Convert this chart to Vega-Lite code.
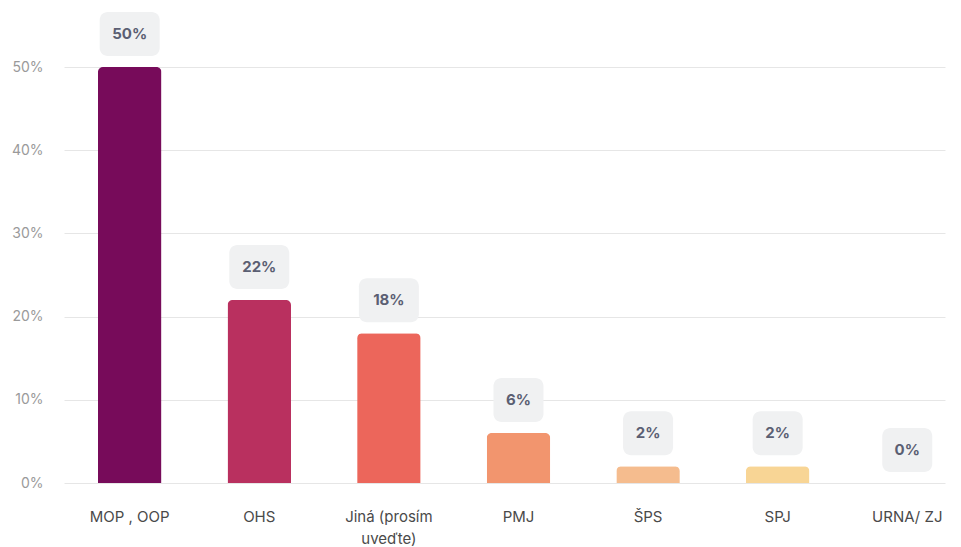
{
  "$schema": "https://vega.github.io/schema/vega-lite/v6.json",
  "width": 881,
  "height": 416,
  "autosize": {"type": "none"},
  "padding": {"left": 64, "top": 67, "right": 16, "bottom": 64},
  "background": "white",
  "config": {"view": {"stroke": null}, "font": "Inter"},
  "data": {
    "values": [
      {"cat": "MOP , OOP", "pct": 0.50, "label": "50%"},
      {"cat": "OHS", "pct": 0.22, "label": "22%"},
      {"cat": "Jiná (prosím uveďte)", "pct": 0.18, "label": "18%"},
      {"cat": "PMJ", "pct": 0.06, "label": "6%"},
      {"cat": "ŠPS", "pct": 0.02, "label": "2%"},
      {"cat": "SPJ", "pct": 0.02, "label": "2%"},
      {"cat": "URNA/ ZJ", "pct": 0.0, "label": "0%"}
    ]
  },
  "encoding": {
    "x": {
      "field": "cat", "type": "nominal", "sort": null,
      "scale": {"paddingInner": 0.51, "paddingOuter": 0.154, "align": 0.85},
      "axis": {
        "title": null, "labelAngle": 0, "domain": false, "ticks": false,
        "labelPadding": 26, "labelFontSize": 15, "labelColor": "#4a4a4a",
        "labelFont": "Inter", "labelLineHeight": 22,
        "labelExpr": "datum.label == 'Jiná (prosím uveďte)' ? ['Jiná (prosím', 'uveďte)'] : datum.label"
      }
    }
  },
  "layer": [
    {
      "mark": {"type": "bar", "cornerRadiusTopLeft": 5, "cornerRadiusTopRight": 5},
      "encoding": {
        "y": {
          "field": "pct", "type": "quantitative",
          "scale": {"domain": [0, 0.5]},
          "axis": {
            "title": null, "format": ".0%", "values": [0, 0.1, 0.2, 0.3, 0.4, 0.5],
            "domain": false, "ticks": false, "labelPadding": 21,
            "labelFontSize": 14, "labelColor": "#9a9a9a", "gridColor": "#e6e6e6",
            "labelFont": "Inter"
          }
        },
        "color": {
          "field": "cat", "type": "nominal", "sort": null, "legend": null,
          "scale": {
            "domain": ["MOP , OOP", "OHS", "Jiná (prosím uveďte)", "PMJ", "ŠPS", "SPJ", "URNA/ ZJ"],
            "range": ["#770b5a", "#b9305f", "#ec665b", "#f2956e", "#f5bc8e", "#f8d595", "#fbe9b0"]
          }
        }
      }
    },
    {
      "transform": [{"filter": "datum.pct >= 0.1"}],
      "mark": {"type": "rect", "width": 60, "height": 44, "yOffset": -33, "cornerRadius": 8, "color": "#f0f1f2"},
      "encoding": {"y": {"field": "pct", "type": "quantitative"}}
    },
    {
      "transform": [{"filter": "datum.pct < 0.1"}],
      "mark": {"type": "rect", "width": 50, "height": 44, "yOffset": -33, "cornerRadius": 8, "color": "#f0f1f2"},
      "encoding": {"y": {"field": "pct", "type": "quantitative"}}
    },
    {
      "mark": {"type": "text", "yOffset": -33, "fontSize": 15, "fontWeight": "bold", "color": "#5b5f73", "font": "Inter", "baseline": "middle"},
      "encoding": {
        "y": {"field": "pct", "type": "quantitative"},
        "text": {"field": "label"}
      }
    }
  ]
}
